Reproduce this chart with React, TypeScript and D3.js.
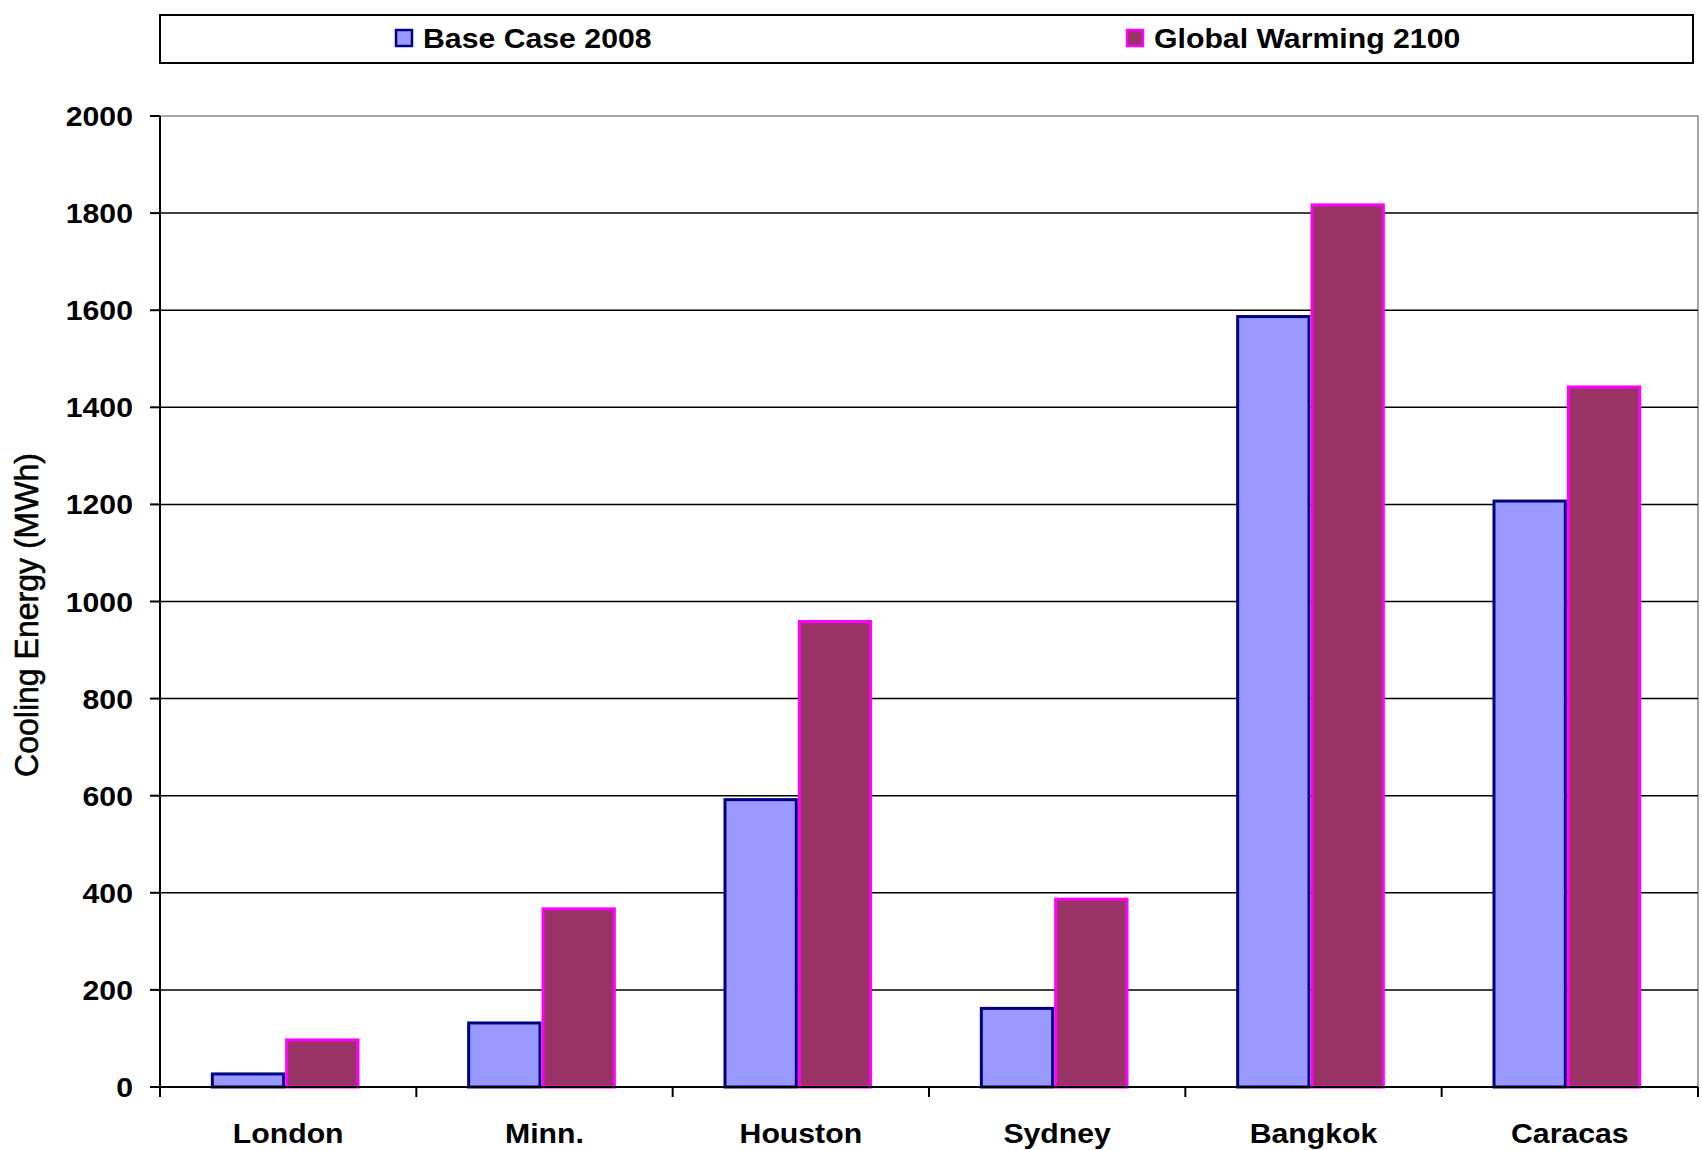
import React, { useEffect, useRef } from "react";
import * as d3 from "d3";

const categories = ["London", "Minn.", "Houston", "Sydney", "Bangkok", "Caracas"];
const seriesNames = ["Base Case 2008", "Global Warming 2100"];
const baseCase2008 = [30, 135, 595, 165, 1590, 1210];
const globalWarming2100 = [100, 370, 962, 390, 1820, 1445];
const yTicks = [0, 200, 400, 600, 800, 1000, 1200, 1400, 1600, 1800, 2000];
const yLabel = "Cooling Energy (MWh)";

const W = 1702;
const H = 1150;
const plot = { left: 160, right: 1698, top: 116, bottom: 1087 };
const fills = ["#9999FF", "#993366"];
const strokes = ["#000080", "#FF00FF"];
const SX = 1.12;
const FONT = "'Liberation Sans', Arial, sans-serif";

export default function App() {
  const ref = useRef<SVGSVGElement>(null);

  useEffect(() => {
    const svg = d3.select(ref.current);
    svg.selectAll("*").remove();

    const y = d3.scaleLinear().domain([0, 2000]).range([plot.bottom, plot.top]);
    const xOuter = d3.scaleBand<string>().domain(categories).range([plot.left, plot.right]).padding(0);
    const x0 = d3
      .scaleBand<string>()
      .domain(categories)
      .range([plot.left - 3, plot.right - 3])
      .paddingInner(0.42)
      .paddingOuter(0.21);
    const x1 = d3.scaleBand<string>().domain(seriesNames).range([0, x0.bandwidth()]).padding(0);

    svg.append("rect").attr("width", W).attr("height", H).attr("fill", "#ffffff");

    // plot area border
    svg
      .append("rect")
      .attr("x", plot.left)
      .attr("y", plot.top)
      .attr("width", plot.right - plot.left)
      .attr("height", plot.bottom - plot.top)
      .attr("fill", "none")
      .attr("stroke", "#8a8a8a")
      .attr("stroke-width", 1.5);

    // gridlines
    svg
      .append("g")
      .selectAll("line")
      .data(yTicks.filter((t) => t !== 0 && t !== 2000))
      .join("line")
      .attr("x1", plot.left)
      .attr("x2", plot.right)
      .attr("y1", (d) => y(d))
      .attr("y2", (d) => y(d))
      .attr("stroke", "#000")
      .attr("stroke-width", 1.5);

    // bars
    const data = categories.map((c, i) => ({ c, vals: [baseCase2008[i], globalWarming2100[i]] }));
    const groups = svg
      .append("g")
      .selectAll("g")
      .data(data)
      .join("g")
      .attr("transform", (d) => `translate(${x0(d.c)},0)`);
    groups
      .selectAll("rect")
      .data((d) => d.vals.map((v, k) => ({ v, k })))
      .join("rect")
      .attr("x", (d) => (x1(seriesNames[d.k]) as number) + 1.5)
      .attr("width", x1.bandwidth() - 3)
      .attr("y", (d) => y(d.v) + 1.5)
      .attr("height", (d) => Math.max(0, y(0) - y(d.v) - 1.5))
      .attr("fill", (d) => fills[d.k])
      .attr("stroke", (d) => strokes[d.k])
      .attr("stroke-width", 3);

    // axes lines
    svg
      .append("line")
      .attr("x1", plot.left)
      .attr("x2", plot.left)
      .attr("y1", plot.top)
      .attr("y2", plot.bottom + 10)
      .attr("stroke", "#000")
      .attr("stroke-width", 2);
    svg
      .append("line")
      .attr("x1", plot.left)
      .attr("x2", plot.right)
      .attr("y1", plot.bottom)
      .attr("y2", plot.bottom)
      .attr("stroke", "#000")
      .attr("stroke-width", 2);

    // y ticks
    const yt = svg.append("g");
    yt.selectAll("line")
      .data(yTicks)
      .join("line")
      .attr("x1", plot.left - 10)
      .attr("x2", plot.left)
      .attr("y1", (d) => y(d))
      .attr("y2", (d) => y(d))
      .attr("stroke", "#000")
      .attr("stroke-width", 2);
    yt.selectAll("text")
      .data(yTicks)
      .join("text")
      .attr("transform", (d) => `translate(${plot.left - 27},${y(d) + 10}) scale(${SX},1)`)
      .attr("text-anchor", "end")
      .attr("font-family", FONT)
      .attr("font-weight", "bold")
      .attr("font-size", 27)
      .attr("fill", "#000")
      .text((d) => String(d));

    // x ticks
    const xTickPos = categories.map((c) => xOuter(c) as number).concat([plot.right]);
    svg
      .append("g")
      .selectAll("line")
      .data(xTickPos)
      .join("line")
      .attr("x1", (d) => d)
      .attr("x2", (d) => d)
      .attr("y1", plot.bottom)
      .attr("y2", plot.bottom + 10)
      .attr("stroke", "#000")
      .attr("stroke-width", 2);
    svg
      .append("g")
      .selectAll("text")
      .data(categories)
      .join("text")
      .attr(
        "transform",
        (c) => `translate(${(xOuter(c) as number) + xOuter.bandwidth() / 2},1143) scale(${SX},1)`
      )
      .attr("text-anchor", "middle")
      .attr("font-family", FONT)
      .attr("font-weight", "bold")
      .attr("font-size", 27)
      .attr("fill", "#000")
      .text((c) => c);

    // y label
    svg
      .append("text")
      .attr("transform", `translate(38,615) rotate(-90) scale(1,${SX})`)
      .attr("text-anchor", "middle")
      .attr("font-family", FONT)
      .attr("font-size", 30)
      .attr("textLength", 324)
      .attr("lengthAdjust", "spacingAndGlyphs")
      .attr("fill", "#000")
      .attr("stroke", "#000")
      .attr("stroke-width", 0.5)
      .text(yLabel);

    // legend
    const lg = svg.append("g");
    lg.append("rect")
      .attr("x", 160)
      .attr("y", 15)
      .attr("width", 1693 - 160)
      .attr("height", 48)
      .attr("fill", "#fff")
      .attr("stroke", "#000")
      .attr("stroke-width", 2);
    const legendX = [396, 1127];
    seriesNames.forEach((name, k) => {
      lg.append("rect")
        .attr("x", legendX[k])
        .attr("y", 30)
        .attr("width", 16)
        .attr("height", 16)
        .attr("fill", fills[k])
        .attr("stroke", strokes[k])
        .attr("stroke-width", 2.5);
      lg.append("text")
        .attr("transform", `translate(${legendX[k] + 27},48) scale(${SX},1)`)
        .attr("font-family", FONT)
        .attr("font-weight", "bold")
        .attr("font-size", 27)
        .attr("fill", "#000")
        .text(name);
    });
  }, []);

  return (
    <svg
      ref={ref}
      width={W}
      height={H}
      style={{ position: "absolute", left: 0, top: 0, display: "block" }}
    />
  );
}
